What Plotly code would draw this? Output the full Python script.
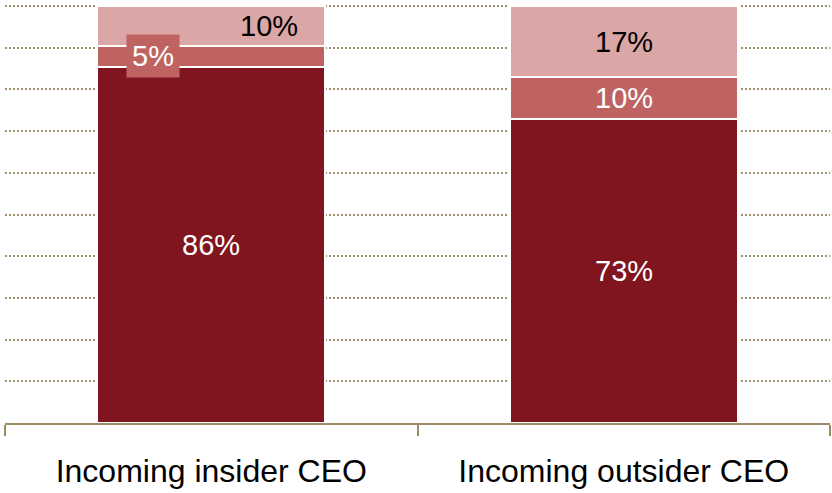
import plotly.graph_objects as go

categories = ["Incoming insider CEO", "Incoming outsider CEO"]
bottom_vals = [85.5, 73]
middle_vals = [5, 10]
top_vals = [9.5, 17]
bottom_labels = ["86%", "73%"]
middle_labels = ["5%", "10%"]
top_labels = ["10%", "17%"]

c_dark = "#801520"
c_mid = "#BE6361"
c_light = "#DBA6A6"
grid_c = "#A09270"
axis_c = "#9B8C67"

fig = go.Figure()
for vals, col in [(bottom_vals, c_dark), (middle_vals, c_mid), (top_vals, c_light)]:
    fig.add_trace(go.Bar(x=categories, y=vals, marker=dict(color=col, line=dict(color="white", width=2)),
                         hoverinfo="skip"))

FONT = "Liberation Sans, Arial, sans-serif"
ann = []
# insider
b, m, t = bottom_vals[0], middle_vals[0], top_vals[0]
ann.append(dict(x=categories[0], y=b / 2, text=bottom_labels[0], font=dict(color="white", size=29)))
ann.append(dict(x=categories[0], y=b + m / 2, text=middle_labels[0], xshift=-58,
                font=dict(color="white", size=29), bgcolor=c_mid, borderpad=5))
ann.append(dict(x=categories[0], y=b + m + t / 2, text=top_labels[0], xshift=58,
                font=dict(color="black", size=29)))
# outsider
b, m, t = bottom_vals[1], middle_vals[1], top_vals[1]
ann.append(dict(x=categories[1], y=b / 2, text=bottom_labels[1], font=dict(color="white", size=29)))
ann.append(dict(x=categories[1], y=b + m / 2, text=middle_labels[1], font=dict(color="white", size=29)))
ann.append(dict(x=categories[1], y=b + m + t / 2, text=top_labels[1], font=dict(color="black", size=29)))
for a in ann:
    a.update(showarrow=False, xref="x", yref="y")
    a["font"]["family"] = FONT

fig.update_layout(
    barmode="stack",
    bargap=0.448,
    width=832, height=493,
    margin=dict(l=5, r=2, t=4, b=70, autoexpand=False),
    paper_bgcolor="white", plot_bgcolor="white",
    showlegend=False,
    font=dict(family=FONT, color="black"),
    annotations=ann,
    shapes=[dict(type="line", xref="paper", yref="y", x0=0, x1=1, y0=100, y1=100, layer="below",
                 line=dict(color=grid_c, width=2, dash="2px,2px"))],
    xaxis=dict(showline=True, linecolor=axis_c, linewidth=2, ticks="outside", tickson="boundaries",
               ticklen=11, tickwidth=2, tickcolor=axis_c, tickfont=dict(size=32, color="black"),
               ticklabelstandoff=19, showgrid=False, zeroline=False, automargin=False),
    yaxis=dict(range=[0, 100.5], tick0=0, dtick=10, showgrid=True, gridcolor=grid_c, gridwidth=2,
               griddash="2px,2px", showticklabels=False, zeroline=False, showline=False,
               automargin=False),
)
fig.write_html("out.html", config={"displayModeBar": False},
               post_script="document.body.style.margin='0px';document.body.style.overflow='hidden';")
